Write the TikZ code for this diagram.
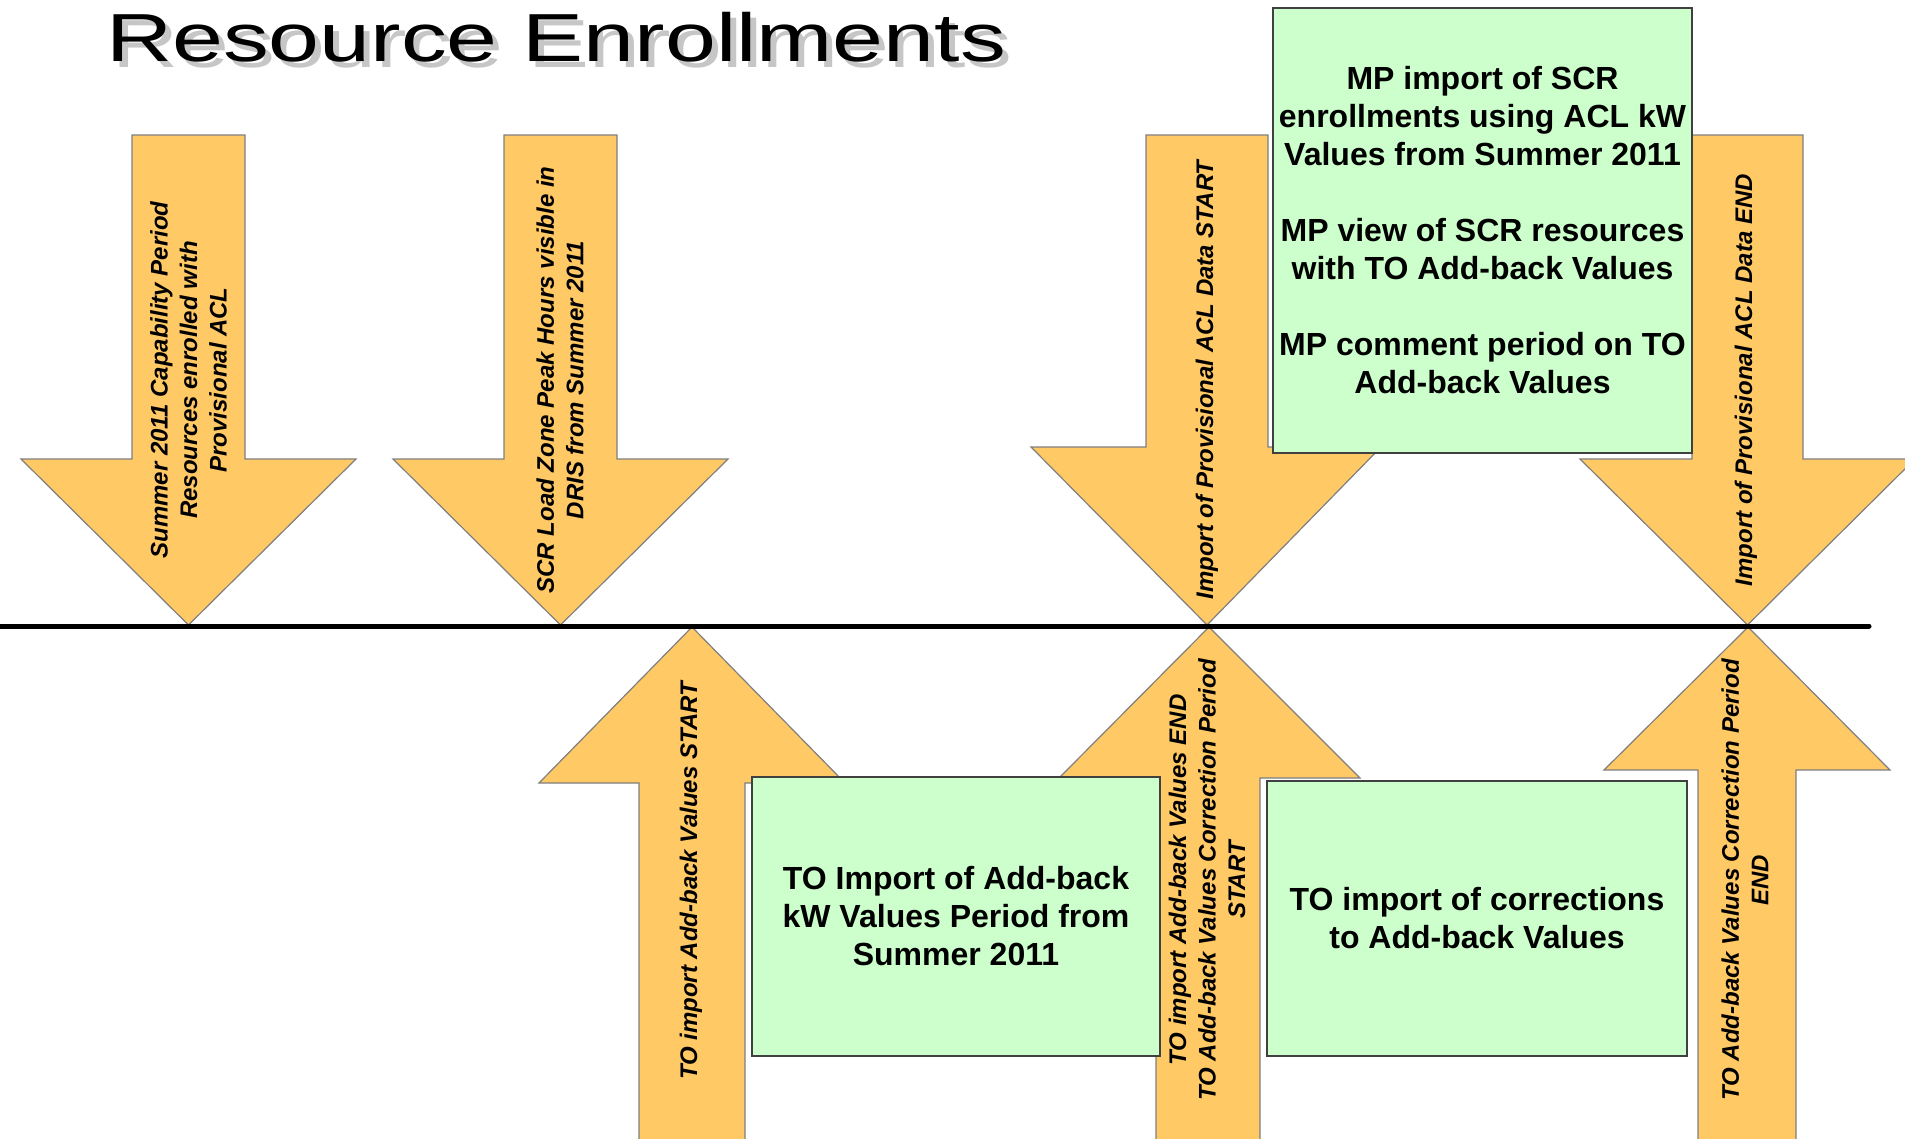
\documentclass[tikz,border=0pt]{standalone}
\usepackage{fontspec}
\setmainfont{Liberation Sans}
\begin{document}
\begin{tikzpicture}[x=1pt, y=-1pt,
  blockarrow/.style={fill=arrowfill, draw=arrowline, line width=1.2pt},
  arrowtext/.style={rotate=90, align=center, inner sep=0pt, font=\fontsize{24}{29.5}\selectfont\bfseries\itshape},
  notebox/.style={fill=notefill, draw=noteline, line width=2pt, inner sep=0pt},
  notetext/.style={align=center, font=\fontsize{32}{38}\selectfont\bfseries},
  titletext/.style={anchor=base west, inner sep=0pt, xscale=1.345, font=\fontsize{68}{80}\selectfont},
  axisline/.style={line width=5pt, line cap=round, draw=black}]
\definecolor{arrowfill}{HTML}{FFC966}
\definecolor{arrowline}{HTML}{7F7F7F}
\definecolor{notefill}{HTML}{CCFFCC}
\definecolor{noteline}{HTML}{404040}
\clip (0,0) rectangle (1905,1138);
\node[titletext, text=gray!45] (titleshadow) at (112,67) {Resource Enrollments};
\node[titletext, text=black] (title) at (106,61) {Resource Enrollments};
\draw[blockarrow] (132,135) -- (245,135) -- (245,459) -- (356,459) -- (188.5,625) -- (21,459) -- (132,459) -- cycle;
\node[arrowtext] (capperiod) at (188.5,380) {Summer 2011 Capability Period\\Resources enrolled with\\Provisional ACL};
\draw[blockarrow] (504,135) -- (617,135) -- (617,459) -- (728,459) -- (560.5,625) -- (393,459) -- (504,459) -- cycle;
\node[arrowtext] (peakhours) at (560,380) {SCR Load Zone Peak Hours visible in\\DRIS from Summer 2011};
\draw[blockarrow] (1146,135) -- (1268,135) -- (1268,447) -- (1381,447) -- (1207,625) -- (1031,447) -- (1146,447) -- cycle;
\node[arrowtext] (aclstart) at (1207,380) {Import of Provisional ACL Data START};
\draw[blockarrow] (1692,135) -- (1803,135) -- (1803,459) -- (1915,459) -- (1747.5,625) -- (1580,459) -- (1692,459) -- cycle;
\node[arrowtext] (aclend) at (1746,380) {Import of Provisional ACL Data END};
\draw[blockarrow] (639,1145) -- (639,783) -- (539,783) -- (692,627) -- (845,783) -- (745,783) -- (745,1145) -- cycle;
\node[arrowtext] (addbackstart) at (691,881) {TO import Add-back Values START};
\draw[blockarrow] (1156,1145) -- (1156,778) -- (1059,778) -- (1209,627) -- (1360,778) -- (1260,778) -- (1260,1145) -- cycle;
\node[arrowtext] (addbackend) at (1207,880) {TO import Add-back Values END\\TO Add-back Values Correction Period\\START};
\draw[blockarrow] (1698,1145) -- (1698,770) -- (1604,770) -- (1748,627) -- (1890,770) -- (1796,770) -- (1796,1145) -- cycle;
\node[arrowtext] (correctend) at (1745,880) {TO Add-back Values Correction Period\\END};
\node[notebox, minimum width=419pt, minimum height=445pt] (mpbox) at (1482.5,230.5) {};
\node[notetext] (mptext) at (mpbox.center) {MP import of SCR\\enrollments using ACL kW\\Values from Summer 2011\\[38pt]MP view of SCR resources\\with TO Add-back Values\\[38pt]MP comment period on TO\\Add-back Values};
\node[notebox, minimum width=408pt, minimum height=279pt] (importbox) at (956,916.5) {};
\node[notetext] (importtext) at (importbox.center) {TO Import of Add-back\\kW Values Period from\\Summer 2011};
\node[notebox, minimum width=420pt, minimum height=275pt] (correctbox) at (1477,918.5) {};
\node[notetext] (correcttext) at (correctbox.center) {TO import of corrections\\to Add-back Values};
\coordinate (axisL) at (-10,626);
\coordinate (axisR) at (1869,626);
\draw[axisline] (axisL) -- (axisR);
\end{tikzpicture}
\end{document}
